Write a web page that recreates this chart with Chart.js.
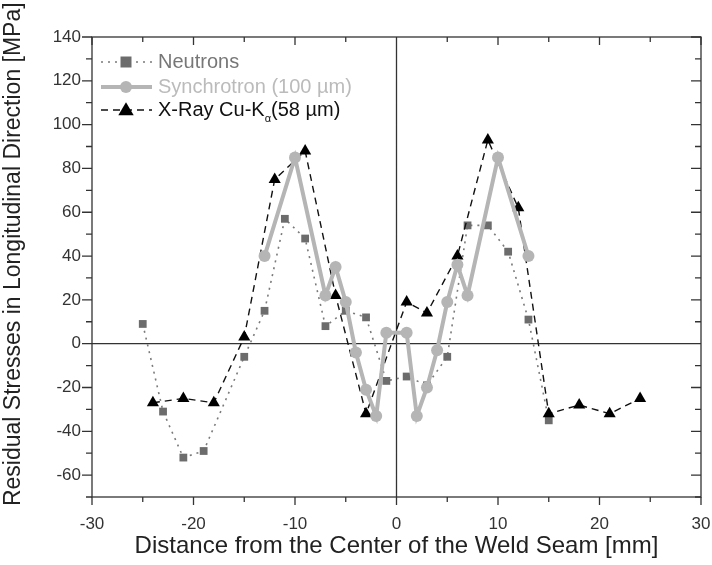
<!DOCTYPE html>
<html>
<head>
<meta charset="utf-8">
<script src="https://cdn.jsdelivr.net/npm/chart.js@4"></script>
<style>
  body { margin: 0; background: #fff; }
</style>
</head>
<body>
<canvas id="myChart" width="712" height="565"></canvas>
<script>
// values
var xNeutrons = [-25, -23, -21, -19, -15, -13, -11, -9, -7, -5, -3, -1, 1, 3, 5, 7, 9, 11, 13, 15];
var yNeutrons = [9, -31, -52, -49, -6, 15, 57, 48, 8, 15, 12, -17, -15, -19, -6, 54, 54, 42, 11, -35];

var xSynchro = [-13, -10, -7, -6, -5, -4, -3, -2, -1, 1, 2, 3, 4, 5, 6, 7, 10, 13];
var ySynchro = [40, 85, 22, 35, 19, -4, -21, -33, 5, 5, -33, -20, -3, 19, 36, 22, 85, 40];

var xXray = [-24, -21, -18, -15, -12, -9, -6, -3, 1, 3, 6, 9, 12, 15, 18, 21, 24];
var yXray = [-27, -25, -27, 3, 75, 88, 22, -32, 19, 14, 40, 93, 62, -32, -28, -32, -25];

var xLabels = [-30, -20, -10, 0, 10, 20, 30];
var yLabels = [-60, -40, -20, 0, 20, 40, 60, 80, 100, 120, 140];

var FONT = "Arial, 'Liberation Sans', sans-serif";

function pts(xs, ys) {
  return xs.map(function (x, i) { return {x: x, y: ys[i]}; });
}

// minor/major ticks on all four sides + zero lines
var frameTicks = {
  id: 'frameTicks',
  beforeDatasetsDraw: function (chart) {
    var ctx = chart.ctx, a = chart.chartArea;
    var xs = chart.scales.x, ys = chart.scales.y;
    ctx.save();
    ctx.strokeStyle = '#333';
    ctx.lineWidth = 1.3;
    ctx.beginPath();
    var x0 = xs.getPixelForValue(0), y0 = ys.getPixelForValue(0);
    ctx.moveTo(x0, a.top); ctx.lineTo(x0, a.bottom);
    ctx.moveTo(a.left, y0); ctx.lineTo(a.right, y0);
    for (var v = -30; v <= 30; v += 5) {
      var px = xs.getPixelForValue(v);
      var len = v % 10 === 0 ? 8 : 5;
      ctx.moveTo(px, a.bottom); ctx.lineTo(px, a.bottom + len);
      ctx.moveTo(px, a.top); ctx.lineTo(px, a.top + len);
    }
    for (var w = -70; w <= 140; w += 10) {
      var py = ys.getPixelForValue(w);
      var l2 = w % 20 === 0 ? 10 : 6;
      ctx.moveTo(a.left, py); ctx.lineTo(a.left - l2, py);
      ctx.moveTo(a.right, py); ctx.lineTo(a.right - l2, py);
    }
    ctx.stroke();
    ctx.strokeRect(a.left, a.top, a.right - a.left, a.bottom - a.top);
    ctx.restore();
  }
};

// legend drawn inside the plot, top left
var boxLegend = {
  id: 'boxLegend',
  afterDraw: function (chart) {
    var ctx = chart.ctx;
    var rows = [62, 87, 110];
    ctx.save();
    chart.data.datasets.forEach(function (ds, i) {
      var y = rows[i];
      ctx.strokeStyle = ds.borderColor;
      ctx.lineWidth = ds.borderWidth;
      ctx.setLineDash(ds.borderDash || []);
      ctx.beginPath();
      ctx.moveTo(101, y); ctx.lineTo(152, y);
      ctx.stroke();
      ctx.setLineDash([]);
      ctx.fillStyle = ds.pointBackgroundColor;
      var r = ds.pointRadius, cx = 126;
      ctx.beginPath();
      if (ds.pointStyle === 'rect') {
        ctx.rect(cx - r, y - r, 2 * r, 2 * r);
      } else if (ds.pointStyle === 'triangle') {
        ctx.moveTo(cx, y - r * 1.1);
        ctx.lineTo(cx + r * 1.1, y + r * 0.75);
        ctx.lineTo(cx - r * 1.1, y + r * 0.75);
        ctx.closePath();
      } else {
        ctx.arc(cx, y, r, 0, Math.PI * 2);
      }
      ctx.fill();

      ctx.fillStyle = ds.legendColor;
      ctx.textBaseline = 'middle';
      ctx.font = '20px ' + FONT;
      var parts = ds.label.split('α');
      ctx.fillText(parts[0], 158, y);
      if (parts.length > 1) {
        var w0 = ctx.measureText(parts[0]).width;
        ctx.font = '11px ' + FONT;
        ctx.fillText('α', 158 + w0, y + 9);
        var w1 = ctx.measureText('α').width;
        ctx.font = '20px ' + FONT;
        ctx.fillText(parts[1], 158 + w0 + w1, y);
      }
    });
    ctx.restore();
  }
};

new Chart('myChart', {
  type: 'scatter',
  data: {
    datasets: [{
      label: 'Neutrons',
      data: pts(xNeutrons, yNeutrons),
      showLine: true,
      borderColor: '#7a7a7a',
      borderWidth: 1.6,
      borderDash: [2, 5],
      pointStyle: 'rect',
      pointRadius: 5.5,
      pointBackgroundColor: '#6c6c6c',
      pointBorderWidth: 0,
      legendColor: '#777',
      order: 3
    }, {
      label: 'Synchrotron (100 µm)',
      data: pts(xSynchro, ySynchro),
      showLine: true,
      borderColor: '#b5b5b5',
      borderWidth: 4,
      pointStyle: 'circle',
      pointRadius: 6,
      pointBackgroundColor: '#b5b5b5',
      pointBorderWidth: 0,
      legendColor: '#bbb',
      order: 1
    }, {
      label: 'X-Ray Cu-Kα(58 µm)',
      data: pts(xXray, yXray),
      showLine: true,
      borderColor: '#111',
      borderWidth: 1.4,
      borderDash: [7, 5],
      pointStyle: 'triangle',
      pointRadius: 7,
      pointBackgroundColor: '#000',
      pointBorderWidth: 0,
      legendColor: '#111',
      order: 2
    }]
  },
  options: {
    responsive: false,
    animation: false,
    layout: {padding: {top: 37, right: 0, left: 0, bottom: 0}},
    plugins: {
      legend: {display: false},
      tooltip: {enabled: false}
    },
    scales: {
      x: {
        type: 'linear',
        min: -30,
        max: 30,
        afterFit: function (s) { s.height = 68; s.paddingRight = 11; s.paddingLeft = 0; },
        afterBuildTicks: function (s) { s.ticks = xLabels.map(function (v) { return {value: v}; }); },
        grid: {display: false},
        border: {display: false},
        ticks: {padding: 9, color: '#333', font: {size: 17, family: FONT}},
        title: {
          display: true,
          text: 'Distance from the Center of the Weld Seam [mm]',
          color: '#222',
          font: {size: 24, family: FONT},
          padding: {top: 0}
        }
      },
      y: {
        type: 'linear',
        min: -70,
        max: 140,
        afterFit: function (s) { s.width = 92; },
        afterBuildTicks: function (s) { s.ticks = yLabels.map(function (v) { return {value: v}; }); },
        grid: {display: false},
        border: {display: false},
        ticks: {padding: 3, color: '#333', font: {size: 17, family: FONT}},
        title: {
          display: true,
          text: '    Residual Stresses in Longitudinal Direction [MPa]',
          color: '#222',
          font: {size: 23, family: FONT},
          padding: {bottom: 0, top: 0}
        }
      }
    }
  },
  plugins: [frameTicks, boxLegend]
});
</script>
</body>
</html>
